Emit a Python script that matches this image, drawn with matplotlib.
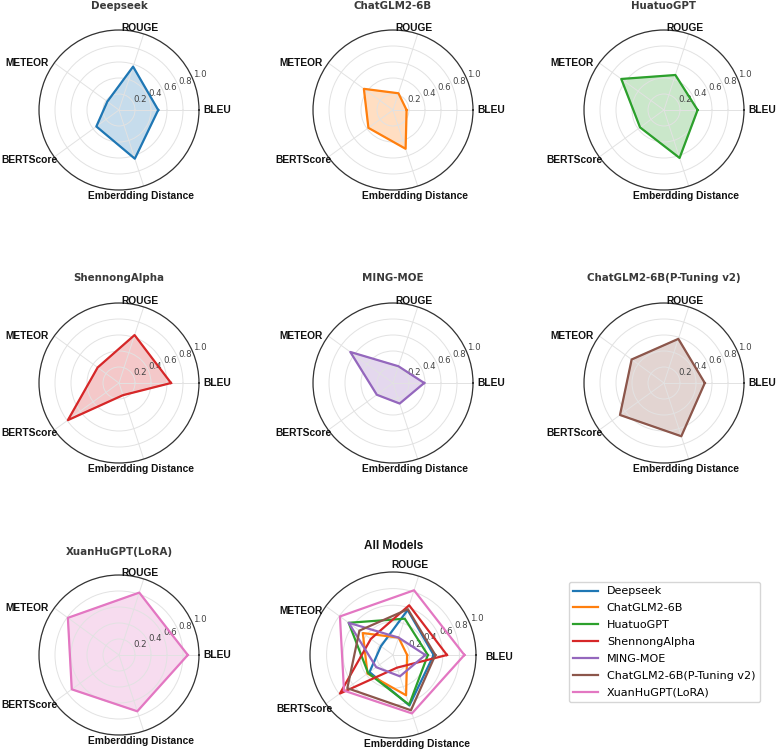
import numpy as np
import matplotlib
matplotlib.use("Agg")
import matplotlib.pyplot as plt

categories = ["BLEU", "ROUGE", "METEOR", "BERTScore", "Emberdding Distance"]
models = ["Deepseek", "ChatGLM2-6B", "HuatuoGPT", "ShennongAlpha", "MING-MOE",
          "ChatGLM2-6B(P-Tuning v2)", "XuanHuGPT(LoRA)"]
deepseek = [0.49, 0.57, 0.18, 0.35, 0.64]
chatglm = [0.17, 0.22, 0.45, 0.38, 0.51]
huatuo = [0.42, 0.46, 0.66, 0.37, 0.63]
shennong = [0.65, 0.63, 0.33, 0.79, 0.16]
mingmoe = [0.39, 0.22, 0.66, 0.25, 0.27]
chatglm_pt = [0.51, 0.58, 0.50, 0.68, 0.70]
xuanhu = [0.86, 0.82, 0.79, 0.73, 0.74]
values = [deepseek, chatglm, huatuo, shennong, mingmoe, chatglm_pt, xuanhu]
colors = ["#1f77b4", "#ff7f0e", "#2ca02c", "#d62728", "#9467bd", "#8c564b", "#e377c2"]
rticks = [0.2, 0.4, 0.6, 0.8, 1.0]

W, H = 778, 749
fig = plt.figure(figsize=(W / 100, H / 100), dpi=100)
PT = 0.72  # points per pixel at 100 dpi

angles = np.linspace(0, 2 * np.pi, len(categories), endpoint=False)
ang_closed = np.concatenate([angles, angles[:1]])

cx = [119, 393, 664]
cy = [110, 383, 655]
R = 80

# label placement (pixel offsets from the spoke end, alignment)
lab_single = [(4.5, -3.3, "left"), (-4, 3, "center"), (-5.5, -2.6, "right"),
              (3.5, -5.7, "right"), (-2.3, -12.5, "center")]
lab_all = [(9, -5, "left"), (-9, 8, "center"), (-3, -8, "right"),
           (7, -8.7, "right"), (-2, -13.5, "center")]


def make_ax(col, row, r, lab):
    x0 = (cx[col] - r) / W
    y0 = 1 - (cy[row] + r) / H
    ax = fig.add_axes([x0, y0, 2 * r / W, 2 * r / H], projection="polar")
    ax.set_ylim(0, 1)
    ax.set_yticks(rticks)
    ax.set_yticklabels([f"{t:.1f}" for t in rticks], fontsize=6.2, color="#444444")
    ax.set_xticks(angles)
    ax.set_xticklabels([])
    ax.grid(color="#e2e2e2", linestyle="-", linewidth=0.7)
    ax.spines["polar"].set_color("#333333")
    ax.spines["polar"].set_linewidth(0.9)
    for a, name, (dx, dy, ha) in zip(angles, categories, lab):
        ax.annotate(name, xy=(a, 1.0), xytext=(dx * PT, dy * PT),
                    textcoords="offset points", ha=ha, va="baseline",
                    fontsize=7.4, fontweight="bold", color="#111111",
                    family="Liberation Sans", annotation_clip=False)
    return ax


title_y = [9, 281, 555]
positions = [(0, 0), (1, 0), (2, 0), (0, 1), (1, 1), (2, 1), (0, 2)]
for i, (name, vals) in enumerate(zip(models, values)):
    col, row = positions[i]
    ax = make_ax(col, row, R, lab_single)
    v = list(vals) + [vals[0]]
    ax.plot(ang_closed, v, color=colors[i], linewidth=1.6)
    ax.fill(ang_closed, v, color=colors[i], alpha=0.25)
    fig.text(cx[col] / W, 1 - title_y[row] / H, name, ha="center", va="baseline",
             fontsize=7.4, fontweight="bold", color="#3a3a3a")

ax = make_ax(1, 2, 83, lab_all)
handles = []
for i, (name, vals) in enumerate(zip(models, values)):
    v = list(vals) + [vals[0]]
    h, = ax.plot(ang_closed, v, color=colors[i], linewidth=1.6, label=name)
    handles.append(h)
fig.text(cx[1] / W + 0.5 / W, 1 - 549 / H, "All Models", ha="center", va="baseline",
         fontsize=8.5, fontweight="bold", color="#111111", family="Liberation Sans")

fig.legend(handles=handles, labels=models, loc="upper left",
           bbox_to_anchor=(569 / W, 1 - 582 / H), fontsize=8,
           frameon=True, borderaxespad=0, handlelength=2.2, labelspacing=0.62)

fig.savefig("out.png", dpi=100, facecolor="white")
